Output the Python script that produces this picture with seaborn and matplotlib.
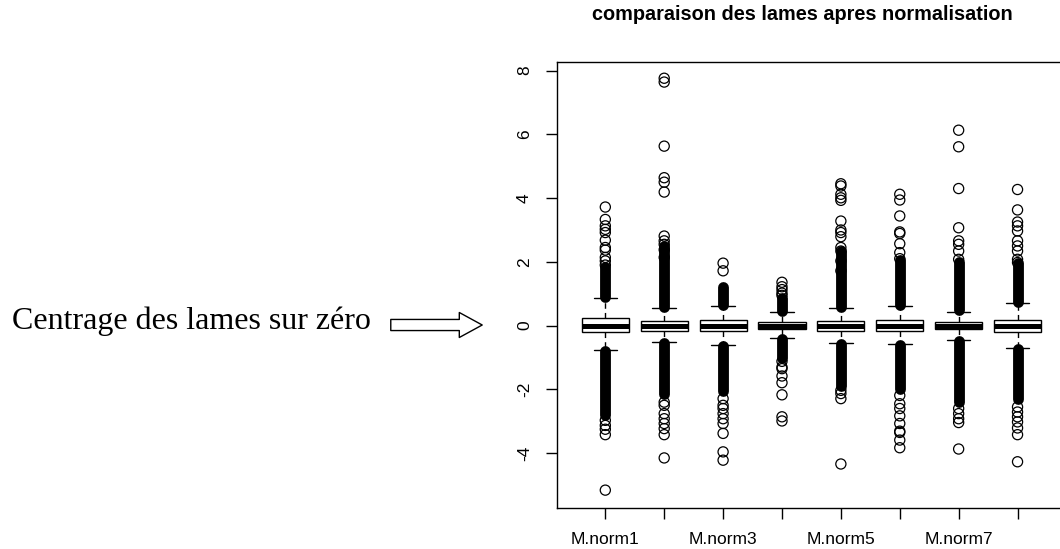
import numpy as np
import pandas as pd
import matplotlib
matplotlib.use("Agg")
import matplotlib.pyplot as plt
import matplotlib.patches as mpatches
import seaborn as sns

# 1. Data
lames = ["M.norm1", "M.norm2", "M.norm3", "M.norm4",
         "M.norm5", "M.norm6", "M.norm7", "M.norm8"]

whisk_lo = [-0.77, -0.50, -0.60, -0.39, -0.54, -0.57, -0.45, -0.69]
q1 = [-0.19, -0.16, -0.16, -0.10, -0.16, -0.16, -0.12, -0.19]
median = [0.00, 0.00, 0.00, 0.00, 0.00, 0.00, 0.00, 0.00]
q3 = [0.23, 0.14, 0.18, 0.12, 0.15, 0.18, 0.10, 0.18]
whisk_hi = [0.86, 0.54, 0.63, 0.42, 0.55, 0.63, 0.44, 0.71]

# runs of outliers so packed that the circles merge into a solid column
dense_hi_from = [0.90, 0.58, 0.66, 0.45, 0.58, 0.66, 0.48, 0.74]
dense_hi_to = [1.85, 2.50, 1.22, 0.88, 2.35, 2.05, 2.00, 1.95]
dense_lo_from = [-0.80, -0.53, -0.63, -0.42, -0.57, -0.60, -0.48, -0.72]
dense_lo_to = [-2.80, -2.15, -2.05, -1.00, -1.90, -2.00, -2.40, -2.30]

# isolated outliers
out_m1 = [1.90, 2.03, 2.14, 2.37, 2.45, 2.68, 2.92, 3.02, 3.13, 3.33, 3.72,
          -2.97, -3.13, -3.25, -3.42, -5.16]
out_m2 = [2.14, 2.38, 2.55, 2.66, 2.81, 4.19, 4.50, 4.64, 5.63, 7.64, 7.76,
          -2.40, -2.50, -2.76, -2.92, -3.07, -3.23, -3.42, -4.15]
out_m3 = [1.72, 1.96, -2.29, -2.50, -2.60, -2.76, -2.92, -3.07, -3.38, -3.96, -4.22]
out_m4 = [0.95, 1.02, 1.13, 1.22, 1.36,
          -1.12, -1.30, -1.35, -1.58, -1.79, -2.17, -2.86, -2.99]
out_m5 = [1.72, 2.03, 2.34, 2.45, 2.79, 2.92, 3.00, 3.28, 3.93, 4.01, 4.12, 4.38, 4.45,
          -2.03, -2.13, -2.29, -4.34]
out_m6 = [2.10, 2.29, 2.57, 2.89, 2.94, 3.44, 3.94, 4.12,
          -2.19, -2.45, -2.60, -2.83, -3.07, -3.31, -3.35, -3.59, -3.83]
out_m7 = [2.08, 2.34, 2.55, 2.66, 3.07, 4.30, 5.61, 6.13,
          -2.60, -2.76, -2.92, -3.04, -3.87]
out_m8 = [1.98, 2.08, 2.34, 2.50, 2.66, 2.97, 3.13, 3.25, 3.63, 4.27,
          -2.55, -2.71, -2.86, -3.02, -3.21, -3.42, -4.27]
outliers = [out_m1, out_m2, out_m3, out_m4, out_m5, out_m6, out_m7, out_m8]

shown_labels = ["M.norm1", "", "M.norm3", "", "M.norm5", "", "M.norm7", ""]
y_ticks = [-4, -2, 0, 2, 4, 6, 8]


def main():
    # 2. Long-form tables for seaborn
    box_rows = []
    for i, name in enumerate(lames):
        for v in (whisk_lo[i], q1[i], median[i], q3[i], whisk_hi[i]):
            box_rows.append({"lame": name, "valeur": v})
    box_df = pd.DataFrame(box_rows)

    out_rows = []
    for name, vals in zip(lames, outliers):
        for v in vals:
            out_rows.append({"lame": name, "valeur": v})
    out_df = pd.DataFrame(out_rows)

    # 3. Style
    sns.set_style("white")
    plt.rcParams['font.family'] = ['Liberation Sans', 'DejaVu Sans']
    plt.rcParams['axes.unicode_minus'] = False
    plt.rcParams['text.color'] = 'black'

    fig = plt.figure(figsize=(10.6, 5.49), dpi=100)
    ax = fig.add_axes([0.5255, 0.0747, 0.480, 0.8124])

    # 4. Boxes (five-number summaries, whiskers at the extremes)
    sns.boxplot(data=box_df, x="lame", y="valeur", order=lames, whis=(0, 100),
                showfliers=False, width=0.8, color="white", linecolor="black",
                linewidth=1, saturation=1,
                medianprops=dict(linewidth=3.6, color="black"),
                whiskerprops=dict(linestyle=(0, (4, 3)), linewidth=1),
                ax=ax, zorder=3)

    # 5. Outliers: merged runs + isolated circles
    pos = np.arange(len(lames))
    ax.vlines(pos, dense_hi_from, dense_hi_to, colors="black",
              linewidth=7.8, capstyle="round", zorder=2)
    ax.vlines(pos, dense_lo_from, dense_lo_to, colors="black",
              linewidth=7.8, capstyle="round", zorder=2)

    n_before = len(ax.collections)
    sns.stripplot(data=out_df, x="lame", y="valeur", order=lames, jitter=False,
                  color="black", edgecolor="black", linewidth=0.9, size=7.3,
                  ax=ax, zorder=2)
    for coll in ax.collections[n_before:]:
        coll.set_facecolor("none")
        coll.set_edgecolor("black")

    # 6. Axes, R-like
    ax.set_xlim(-0.82, 7.82)
    ax.set_ylim(-5.72, 8.27)
    ax.set_xticks(pos)
    ax.set_xticklabels(shown_labels)
    ax.set_yticks(y_ticks)
    ax.set_yticklabels([str(t) for t in y_ticks], rotation=90, va="center")
    ax.set_xlabel("")
    ax.set_ylabel("")
    ax.tick_params(axis="both", direction="out", length=8, width=1,
                   color="black", labelsize=12.5, labelcolor="black")
    ax.tick_params(axis="x", pad=9, bottom=True)
    ax.tick_params(axis="y", pad=10, left=True)
    for sp in ax.spines.values():
        sp.set_color("black")
        sp.set_linewidth(1)

    fig.text(0.7566, 0.973, "comparaison des lames apres normalisation",
             ha="center", va="center", fontsize=14.3, fontweight="bold",
             color="black")

    # 7. Side note with a hollow arrow
    fig.text(0.0113, 0.4007, "Centrage des lames sur zéro", ha="left",
             va="baseline", fontsize=23, color="black",
             family=["Liberation Serif", "DejaVu Serif"])
    arrow = mpatches.FancyArrowPatch(
        (3.88, 2.24), (4.85, 2.24), transform=fig.dpi_scale_trans,
        arrowstyle="simple,head_length=1.65,head_width=1.8,tail_width=0.8",
        mutation_scale=10, facecolor="white", edgecolor="black", linewidth=1)
    fig.patches.append(arrow)

    fig.savefig("out.png", dpi=100)
    plt.close(fig)


if __name__ == "__main__":
    main()
